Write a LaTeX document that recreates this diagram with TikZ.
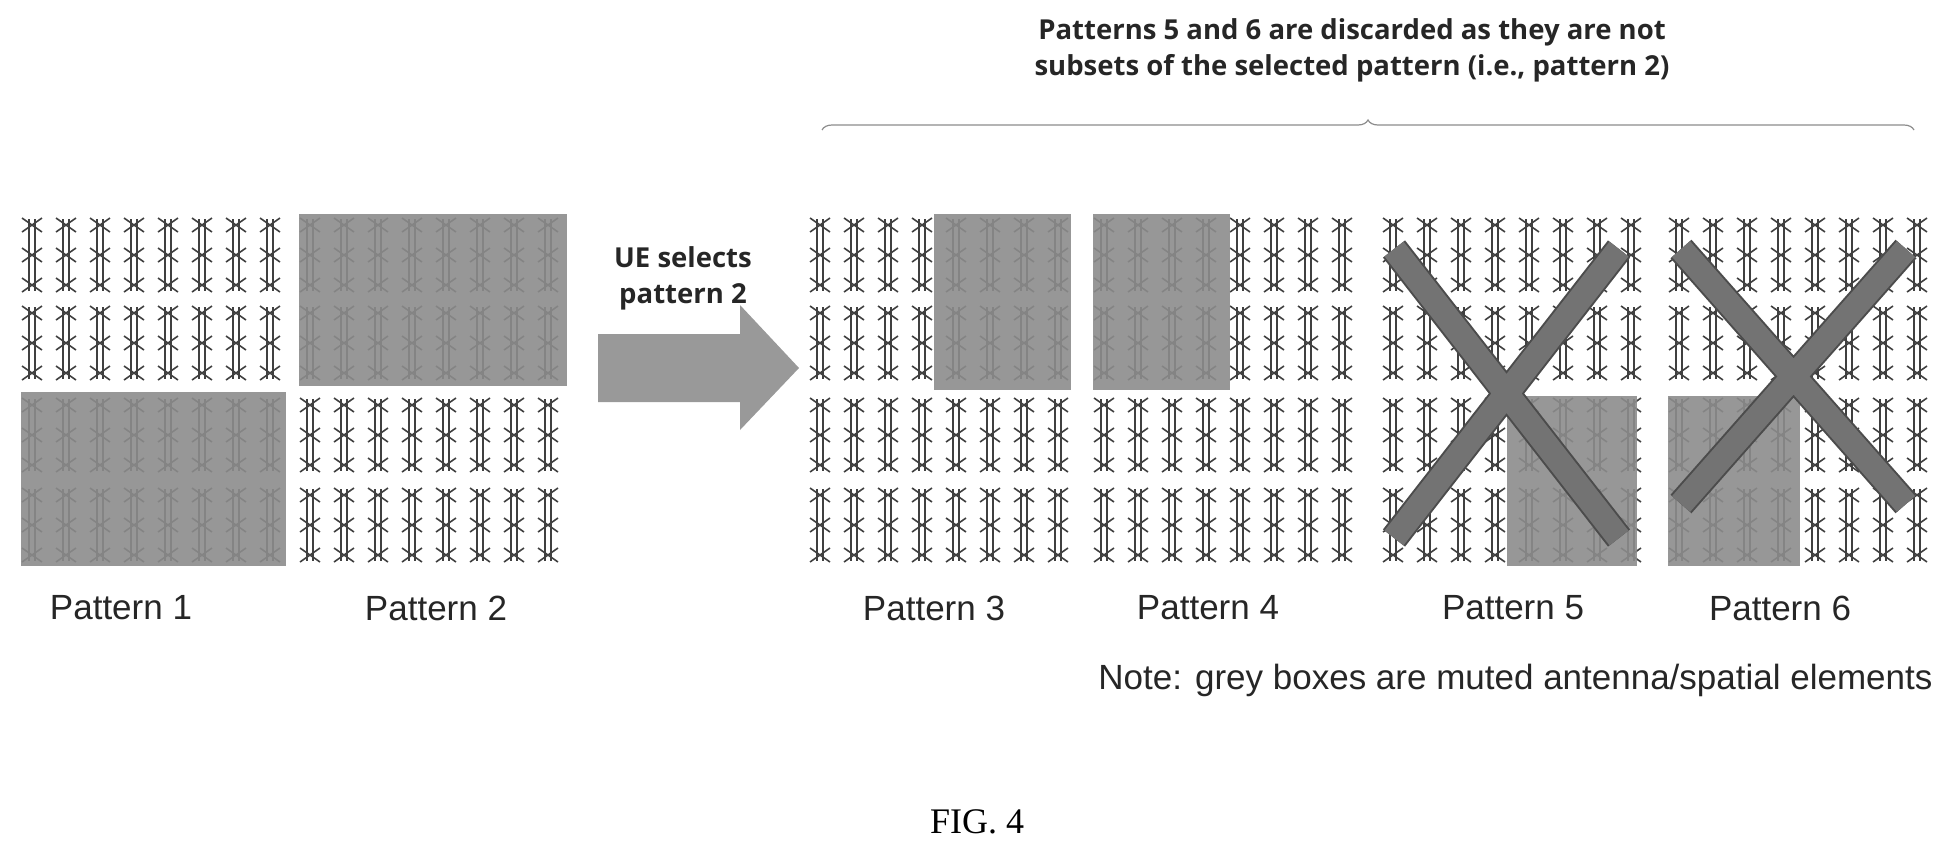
\documentclass[tikz,border=0pt]{standalone}
\usepackage{fontspec}
\setmainfont{Liberation Sans}
\newfontfamily\calib{Open Sans}
\newfontfamily\figfont{Liberation Serif}
\usetikzlibrary{decorations.pathreplacing}

\begin{document}
\begin{tikzpicture}[x=1pt,y=-1pt]
    \tikzstyle{dipole}=[draw=black!75,line width=1.6pt]
    \tikzstyle{muted}=[fill=black!45,draw=none,opacity=0.9]
    \tikzstyle{label}=[font=\fontsize{35}{40}\selectfont,text=black!85]
    \tikzstyle{note}=[font=\calib\bfseries\fontsize{27.5}{36}\selectfont,align=center,text=black!85]

    \useasboundingbox (0,0) rectangle (1953,860);

    % one antenna element: two feeds and three crossed dipoles
    \def\elem#1#2{%
        \draw[dipole] (#1-3,#2-36) -- (#1-3,#2+36);
        \draw[dipole] (#1+3,#2-36) -- (#1+3,#2+36);
        \foreach \dy in {-30,0,30}{
            \draw[dipole] (#1-10,#2+\dy-7) -- (#1+10,#2+\dy+7);
            \draw[dipole] (#1+10,#2+\dy-7) -- (#1-10,#2+\dy+7);
        }}

    % a pattern: 8 columns, 4 rows
    \def\array#1{%
        \foreach \i in {0,...,7}{
            \foreach \r in {41,129,221,311}{
                \elem{#1+11+34*\i}{214+\r}
            }}}

    \array{21}
    \array{299}
    \array{809}
    \array{1093}
    \array{1382}
    \array{1668}

    % muted parts
    \fill[muted] (21,392) rectangle (286,566);
    \fill[muted] (299,214) rectangle (567,386);
    \fill[muted] (934,214) rectangle (1071,390);
    \fill[muted] (1093,214) rectangle (1230,390);
    \fill[muted] (1507,396) rectangle (1637,566);
    \fill[muted] (1668,396) rectangle (1800,566);

    % discarded patterns
    \coordinate (a5) at (1394,249); \coordinate (b5) at (1619,538);
    \coordinate (c5) at (1619,249); \coordinate (d5) at (1394,538);
    \coordinate (a6) at (1681,249); \coordinate (b6) at (1906,504);
    \coordinate (c6) at (1906,249); \coordinate (d6) at (1681,504);
    \draw[black!70,line width=28pt] (a5) -- (b5) (c5) -- (d5);
    \draw[black!55,line width=24pt] (a5) -- (b5) (c5) -- (d5);
    \draw[black!70,line width=28pt] (a6) -- (b6) (c6) -- (d6);
    \draw[black!55,line width=24pt] (a6) -- (b6) (c6) -- (d6);

    % selection arrow
    \fill[black!40] (598,334) -- (740,334) -- (740,305) -- (799,368)
        -- (740,430) -- (740,402) -- (598,402) -- cycle;
    \node[note] (sel) at (683,278) {UE selects\\pattern 2};

    \node[label] (p1) at (121,608) {Pattern 1};
    \node[label] (p2) at (436,608) {Pattern 2};
    \node[label] (p3) at (934,608) {Pattern 3};
    \node[label] (p4) at (1208,608) {Pattern 4};
    \node[label] (p5) at (1513,608) {Pattern 5};
    \node[label] (p6) at (1780,608) {Pattern 6};

    \node[note] (title) at (1352,50) {Patterns 5 and 6 are discarded as they are not\\subsets of the selected pattern (i.e., pattern 2)};
    \coordinate (bl) at (822,130);
    \coordinate (br) at (1914,130);
    \draw[black!45,line width=1.2pt,decorate,decoration={brace,amplitude=10pt}] (bl) -- (br);

    \node[label,anchor=east] (mute) at (1936,680) {Note: grey boxes are muted antenna/spatial elements};
    \node[font=\figfont\fontsize{36}{40}\selectfont] (fig) at (977,822) {FIG. 4};
\end{tikzpicture}
\end{document}
